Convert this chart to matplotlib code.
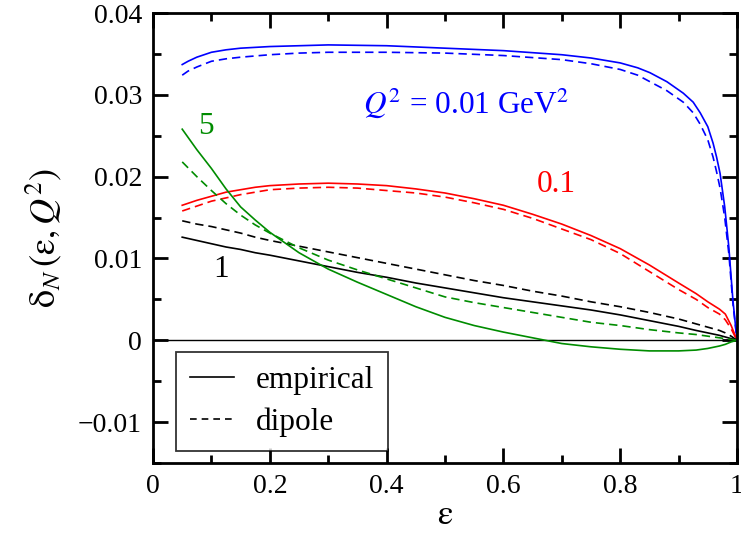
import numpy as np
import matplotlib
matplotlib.use('Agg')
import matplotlib.pyplot as plt
from matplotlib.ticker import MultipleLocator
from matplotlib.lines import Line2D

plt.rcParams['font.family'] = ['Liberation Serif', 'DejaVu Serif']
plt.rcParams['mathtext.fontset'] = 'stix'

# values
eps = [0.05, 0.075, 0.1, 0.125, 0.15, 0.175, 0.2, 0.25, 0.3, 0.35, 0.4, 0.45, 0.5, 0.55,
       0.6, 0.65, 0.7, 0.75, 0.8, 0.85, 0.9, 0.93, 0.95, 0.97, 0.98, 0.99, 1.0]

red_emp = [0.0165, 0.0171, 0.0176, 0.0181, 0.0184, 0.0187, 0.0189, 0.0191, 0.0192, 0.0191,
           0.0189, 0.0185, 0.0180, 0.0173, 0.0165, 0.0154, 0.0142, 0.0128, 0.0112, 0.0092,
           0.0070, 0.0057, 0.0047, 0.0038, 0.0032, 0.0018, 0.0]
red_dip = [0.0158, 0.0164, 0.0170, 0.0174, 0.0178, 0.0181, 0.0184, 0.0186, 0.0187, 0.0186,
           0.0183, 0.0180, 0.0175, 0.0168, 0.0160, 0.0149, 0.0136, 0.0123, 0.0106, 0.0084,
           0.0062, 0.0050, 0.0040, 0.0032, 0.0025, 0.0014, 0.0]
blk_emp = [0.0126, 0.0122, 0.0118, 0.0114, 0.0111, 0.0107, 0.0104, 0.0097, 0.0090, 0.0083,
           0.0077, 0.0070, 0.0064, 0.0058, 0.0052, 0.0047, 0.0042, 0.0037, 0.0031, 0.0024,
           0.0017, 0.0012, 0.0009, 0.0006, 0.0004, 0.0002, 0.0]
blk_dip = [0.0146, 0.0142, 0.0139, 0.0135, 0.0131, 0.0126, 0.0122, 0.0115, 0.0108, 0.0101,
           0.0094, 0.0087, 0.0080, 0.0073, 0.0067, 0.0060, 0.0054, 0.0047, 0.0041, 0.0034,
           0.0026, 0.0020, 0.0016, 0.0012, 0.0009, 0.0005, 0.0]
grn_emp = [0.0258, 0.0233, 0.0210, 0.0185, 0.0163, 0.0147, 0.0132, 0.0107, 0.0087, 0.0071,
           0.0056, 0.0041, 0.0028, 0.0018, 0.0010, 0.0003, -0.0004, -0.0008, -0.0011, -0.0013,
           -0.0013, -0.0012, -0.0010, -0.0007, -0.0005, -0.0002, 0.0]
grn_dip = [0.0218, 0.0200, 0.0183, 0.0167, 0.0153, 0.0141, 0.0131, 0.0113, 0.0098, 0.0086,
           0.0075, 0.0064, 0.0053, 0.0046, 0.0040, 0.0034, 0.0028, 0.0022, 0.0018, 0.0013,
           0.0009, 0.0007, 0.0005, 0.0003, 0.0002, 0.0001, 0.0]

eps_blue = [0.05, 0.06, 0.075, 0.1, 0.125, 0.15, 0.2, 0.25, 0.3, 0.4, 0.5, 0.6, 0.7, 0.75,
            0.8, 0.83, 0.851, 0.88, 0.908, 0.925, 0.937, 0.95, 0.959, 0.965, 0.971, 0.979,
            0.986, 0.993, 1.0]
blue_emp = [0.0337, 0.0341, 0.0346, 0.0352, 0.0355, 0.0357, 0.0359, 0.0360, 0.0361, 0.0360,
            0.0357, 0.0354, 0.0349, 0.0345, 0.0339, 0.0333, 0.0327, 0.0316, 0.0302, 0.0291,
            0.0278, 0.0261, 0.0241, 0.0224, 0.0204, 0.0163, 0.0114, 0.0049, 0.0]
blue_dip = [0.0324, 0.0329, 0.0334, 0.0341, 0.0344, 0.0346, 0.0349, 0.0351, 0.0352, 0.0352,
            0.0351, 0.0348, 0.0343, 0.0338, 0.0331, 0.0324, 0.0316, 0.0305, 0.0291, 0.0278,
            0.0264, 0.0245, 0.0224, 0.0206, 0.0186, 0.0150, 0.0106, 0.0045, 0.0]

LW = 1.2
DASH = (5, 3)
GREEN = '#008c00'

fig = plt.figure(figsize=(7.41, 5.35), dpi=100)
ax = fig.add_axes([0.2065, 0.1346, 0.7881, 0.8411])

ax.axhline(0, color='black', lw=1.0)

ax.plot(eps_blue, blue_emp, color='blue', lw=LW)
ax.plot(eps_blue, blue_dip, color='blue', lw=LW, ls='--', dashes=DASH)
ax.plot(eps, red_emp, color='red', lw=LW)
ax.plot(eps, red_dip, color='red', lw=LW, ls='--', dashes=DASH)
ax.plot(eps, blk_emp, color='black', lw=LW)
ax.plot(eps, blk_dip, color='black', lw=LW, ls='--', dashes=DASH)
ax.plot(eps, grn_emp, color=GREEN, lw=LW)
ax.plot(eps, grn_dip, color=GREEN, lw=LW, ls='--', dashes=DASH)

ax.text(0.36, 0.0278, r'$Q^2$ = 0.01 GeV$^2$', color='blue', fontsize=22.5,
        ha='left', va='baseline')
ax.text(0.69, 0.0190, '0.1', color='red', fontsize=22.5, ha='center', va='center')
ax.text(0.091, 0.0261, '5', color=GREEN, fontsize=22.5, ha='center', va='center')
ax.text(0.116, 0.0087, '1', color='black', fontsize=22.5, ha='center', va='center')

ax.set_xlim(0, 1)
ax.set_ylim(-0.015, 0.04)
ax.xaxis.set_minor_locator(MultipleLocator(0.1))
ax.yaxis.set_minor_locator(MultipleLocator(0.005))
ax.set_xticks([0, 0.2, 0.4, 0.6, 0.8, 1.0])
ax.set_xticklabels(['0', '0.2', '0.4', '0.6', '0.8', '1'])
ax.set_yticks([-0.01, 0, 0.01, 0.02, 0.03, 0.04])
ax.set_yticklabels(['\u22120.01', '0', '0.01', '0.02', '0.03', '0.04'])
ax.tick_params(which='both', direction='in', top=True, right=True, width=2,
               labelsize=20, pad=8)
ax.tick_params(which='major', length=11)
ax.tick_params(which='minor', length=6)
for s in ax.spines.values():
    s.set_linewidth(2)

ax.set_xlabel(r'$\mathrm{\varepsilon}$', fontsize=25, labelpad=0)
ax.set_ylabel(r'$\mathrm{\delta}_N\,(\mathrm{\varepsilon},Q^2)$', fontsize=26, labelpad=10)

handles = [Line2D([], [], color='black', lw=LW),
           Line2D([], [], color='black', lw=LW, ls='--', dashes=(4, 3))]
leg = ax.legend(handles, ['empirical', 'dipole'], loc='lower left',
                bbox_to_anchor=(0.039, 0.027), borderaxespad=0, fontsize=22.5,
                frameon=True, fancybox=False, edgecolor='black', handlelength=1.4,
                handletextpad=0.7, borderpad=0.45, labelspacing=0.4)
leg.get_frame().set_linewidth(1.3)

fig.savefig('out.png', dpi=100)
